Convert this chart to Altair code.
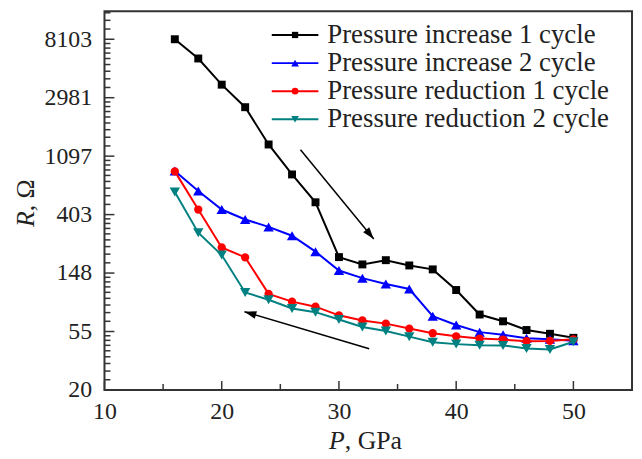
import math
import altair as alt
import pandas as pd

# ---------------- data ----------------
pressure = [16, 18, 20, 22, 24, 26, 28, 30, 32, 34, 36, 38, 40, 42, 44, 46, 48, 50]

inc_1 = [8103, 5830, 3725, 2534, 1339, 802, 498, 195, 172, 185, 169, 158, 111, 73, 65, 56, 52.5, 49]
inc_2 = [852, 604, 440, 371, 327, 281, 214, 155, 136, 123, 113, 71, 61, 54, 51.6, 48.7, 47.9, 46.6]
red_1 = [845, 440, 230, 194, 104, 91, 83.5, 72, 66, 62.5, 57.4, 53, 50.3, 48.4, 47.6, 46.2, 46.5, 47.8]
red_2 = [593, 296, 202, 106.5, 94, 81, 76, 67, 59, 55, 50, 45.5, 44, 43.2, 43, 40.9, 40.2, 45.8]

series_names = [
    "Pressure increase 1 cycle",
    "Pressure increase 2 cycle",
    "Pressure reduction 1 cycle",
    "Pressure reduction 2 cycle",
]
series_values = [inc_1, inc_2, red_1, red_2]
series_colors = ["#000000", "#0000ff", "#ff0000", "#008080"]
series_shapes = ["square", "triangle-up", "circle", "triangle-down"]
series_sizes = [64, 110, 70, 110]
legend_sizes = [40, 60, 45, 60]

# y tick values: e^3 ... e^9 (labels 20, 55, 148, ...)
y_major = [math.exp(n) for n in range(3, 10)]
x_major = [10, 20, 30, 40, 50]
x_minor = [15, 25, 35, 45]

# annotation arrows (data units): start -> tip
arrow_x = [26.72, 32.58]
arrow_y = [1222, 40.7]
arrow_x2 = [32.97, 21.94]
arrow_y2 = [266, 76.6]
arrow_angle = [140.6, 286.5]

# ---------------- layout ----------------
W, H = 532, 382
FONT = "Liberation Serif"
TXT = "#222222"
FRAME = "#333333"

xscale = alt.Scale(domain=[10, 55], nice=False, zero=False)
yscale = alt.Scale(type="log", domain=[math.exp(3), 13100], nice=False)

# minor y ticks: 8 per interval, evenly spaced linearly between majors
y_minor = []
for n in range(3, 10):
    lo, hi = math.exp(n), math.exp(n + 1)
    for k in range(1, 9):
        v = lo + k * (hi - lo) / 9
        if v < 13100:
            y_minor.append(v)

one = pd.DataFrame({"a": [0]})

x_axis = alt.Axis(values=x_major, format="d", labelFontSize=24, labelFont=FONT,
                  labelColor=TXT, ticks=False, domain=False, grid=False,
                  labelPadding=10, labelFlush=False, labelOverlap=False, title=None)
y_axis = alt.Axis(values=y_major, format=".0f", labelFontSize=24, labelFont=FONT,
                  labelColor=TXT, ticks=False, domain=False, grid=False,
                  labelPadding=13, labelFlush=False, labelOverlap=False, title=None)


def X(f):
    return alt.X(f, scale=xscale, axis=x_axis)


def Y(f):
    return alt.Y(f, scale=yscale, axis=y_axis)


layers = []

for name, vals, col, shp, sz in zip(series_names, series_values, series_colors,
                                    series_shapes, series_sizes):
    sdf = pd.DataFrame({"P": pressure, "R": vals})
    line = alt.Chart(sdf).mark_line(color=col, strokeWidth=2).encode(
        x=X("P:Q"), y=Y("R:Q"))
    pts = alt.Chart(sdf).mark_point(shape=shp, filled=True, color=col, size=sz,
                                    opacity=1).encode(x=X("P:Q"), y=Y("R:Q"))
    layers += [line, pts]

# inward ticks
ytm = alt.Chart(pd.DataFrame({"v": y_major})).mark_rule(color=FRAME, strokeWidth=1.5).encode(
    y=Y("v:Q"), x=alt.value(0), x2=alt.value(10))
ytn = alt.Chart(pd.DataFrame({"v": y_minor})).mark_rule(color=FRAME, strokeWidth=1.5).encode(
    y=Y("v:Q"), x=alt.value(0), x2=alt.value(6))
xtm = alt.Chart(pd.DataFrame({"v": x_major})).mark_rule(color=FRAME, strokeWidth=1.5).encode(
    x=X("v:Q"), y=alt.value(H), y2=alt.value(H - 9))
xtn = alt.Chart(pd.DataFrame({"v": x_minor})).mark_rule(color=FRAME, strokeWidth=1.5).encode(
    x=X("v:Q"), y=alt.value(H), y2=alt.value(H - 6))
layers += [ytm, ytn, xtm, xtn]

# arrows
adf = pd.DataFrame({"x": arrow_x, "y": arrow_y, "x2": arrow_x2, "y2": arrow_y2,
                    "ang": arrow_angle})
shaft = alt.Chart(adf).mark_rule(color="black", strokeWidth=1.5).encode(
    x=X("x:Q"), y=Y("y:Q"), x2="x2:Q", y2="y2:Q")
head = alt.Chart(adf).mark_point(shape="M0,0L-0.33,1L0.33,1Z", filled=True, color="black",
                                 size=576, opacity=1).encode(
    x=X("x2:Q"), y=Y("y2:Q"), angle=alt.Angle("ang:Q", scale=None))
layers += [shaft, head]

# legend (manual, line through marker)
leg_y = [24, 52.4, 80.7, 109]
for name, col, shp, sz, ly in zip(series_names, series_colors, series_shapes,
                                  legend_sizes, leg_y):
    layers.append(alt.Chart(one).mark_rule(color=col, strokeWidth=2).encode(
        x=alt.value(168.7), x2=alt.value(215.7), y=alt.value(ly)))
    layers.append(alt.Chart(one).mark_point(shape=shp, filled=True, color=col, size=sz,
                                            opacity=1).encode(
        x=alt.value(192.2), y=alt.value(ly)))
    layers.append(alt.Chart(one).mark_text(font=FONT, fontSize=27, color=TXT, align="left",
                                           baseline="middle").encode(
        x=alt.value(224.7), y=alt.value(ly), text=alt.value(name)))

# axis titles with italic symbols
TITLE_Y = 441.5
layers.append(alt.Chart(one).mark_text(font=FONT, fontSize=26, fontStyle="italic", color=TXT,
                                       align="left", baseline="alphabetic").encode(
    x=alt.value(226.4), y=alt.value(TITLE_Y), text=alt.value("P")))
layers.append(alt.Chart(one).mark_text(font=FONT, fontSize=26, color=TXT,
                                       align="left", baseline="alphabetic").encode(
    x=alt.value(242.3), y=alt.value(TITLE_Y), text=alt.value(", GPa")))
layers.append(alt.Chart(one).mark_text(font=FONT, fontSize=26, fontStyle="italic", color=TXT,
                                       align="left", baseline="alphabetic", angle=270).encode(
    x=alt.value(-71.3), y=alt.value(217.7), text=alt.value("R")))
layers.append(alt.Chart(one).mark_text(font=FONT, fontSize=26, color=TXT,
                                       align="left", baseline="alphabetic", angle=270).encode(
    x=alt.value(-71.3), y=alt.value(201.8), text=alt.value(", Ω")))

chart = alt.layer(*layers).properties(
    width=W, height=H,
    autosize=alt.AutoSizeParams(type="none"),
    padding={"left": 97.3, "top": 1.3, "right": 2, "bottom": 64},
).configure(font=FONT, background="white").configure_view(stroke=FRAME, strokeWidth=2)

chart.save("out.html", embed_options={"renderer": "svg", "actions": False})
